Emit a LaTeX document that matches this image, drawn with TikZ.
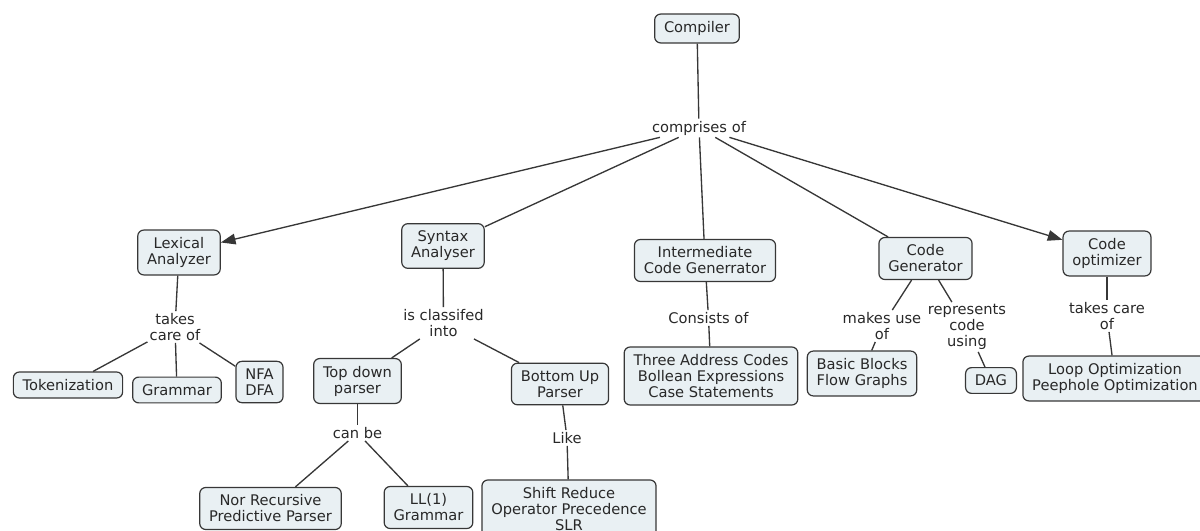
\documentclass[tikz,border=0pt]{standalone}
\usepackage{fontspec}
\setmainfont{DejaVu Sans}
\usepackage{xcolor}
\definecolor{boxfill}{RGB}{233, 240, 243}
\definecolor{edge}{RGB}{55, 55, 55}
\definecolor{ink}{RGB}{40, 40, 40}
\usepackage{tikz}
\usetikzlibrary{arrows.meta}

\begin{document}
\begin{tikzpicture}[x=0.75pt, y=-0.75pt,
    font=\fontsize{11}{12}\selectfont,
    concept/.style={draw=edge, fill=boxfill, text=ink, rounded corners=4.5pt, align=center,
        inner xsep=7pt, inner ysep=5.5pt, line width=0.9pt},
    link/.style={align=center, text=ink, inner sep=1.5pt},
    conn/.style={draw=edge, line width=1pt},
    tip/.style={-{Triangle[length=11pt, width=8pt]}}]
    \useasboundingbox (0,0) rectangle (1200,531);

    % Top concept
    \node[concept] (Compiler) at (697,28.5) {Compiler};
    \node[link] (Comprises) at (699,128) {comprises of};

    % Phases
    \node[concept] (Lexical) at (179,252.5) {Lexical\\Analyzer};
    \node[concept] (Syntax) at (443,246) {Syntax\\Analyser};
    \node[concept] (Intermediate) at (705,260.5) {Intermediate\\Code Generrator};
    \node[concept] (CodeGen) at (925.5,258.5) {Code\\Generator};
    \node[concept] (CodeOpt) at (1107,253.5) {Code\\optimizer};

    % Lexical analyzer
    \node[link] (LexCare) at (175,327) {takes\\care of};
    \node[concept] (Tokenization) at (68,385) {Tokenization};
    \node[concept] (Grammar) at (177,390) {Grammar};
    \node[concept] (Automata) at (259.5,382) {NFA\\DFA};

    % Syntax analyser
    \node[link] (Classified) at (443.5,323) {is classifed\\into};
    \node[concept] (TopDown) at (357.5,381) {Top down\\parser};
    \node[concept] (BottomUp) at (560,384) {Bottom Up\\Parser};
    \node[link] (CanBe) at (357.5,433) {can be};
    \node[concept] (Predictive) at (270.5,508.5) {Nor Recursive\\Predictive Parser};
    \node[concept] (LLone) at (428.5,507.5) {LL(1)\\Grammar};
    \node[link] (Like) at (567,438) {Like};
    \node[concept] (ShiftReduce) at (569,509) {Shift Reduce\\Operator Precedence\\SLR};

    % Intermediate code
    \node[link] (Consists) at (708.5,318) {Consists of};
    \node[concept] (ThreeAddress) at (711,376) {Three Address Codes\\Bollean Expressions\\Case Statements};

    % Code generator
    \node[link] (MakesUse) at (882,326) {makes use\\of};
    \node[link] (Represents) at (967,327) {represents\\code\\using};
    \node[concept] (Blocks) at (862,373.5) {Basic Blocks\\Flow Graphs};
    \node[concept] (Dag) at (991,380.5) {DAG};

    % Code optimizer
    \node[link] (OptCare) at (1107,316) {takes care\\of};
    \node[concept] (Loop) at (1115,378.5) {Loop Optimization\\Peephole Optimization};

    % Connectors
    \draw[conn] (Compiler) -- (Comprises);
    \draw[conn, tip] (Comprises) -- (Lexical);
    \draw[conn] (Comprises) -- (Syntax);
    \draw[conn] (Comprises) -- (Intermediate);
    \draw[conn] (Comprises) -- (CodeGen);
    \draw[conn, tip] (Comprises) -- (CodeOpt);

    \draw[conn] (Lexical) -- (LexCare);
    \draw[conn] (LexCare) -- (Tokenization);
    \draw[conn] (LexCare) -- (Grammar);
    \draw[conn] (LexCare) -- (Automata);

    \draw[conn] (Syntax) -- (Classified);
    \draw[conn] (Classified) -- (TopDown);
    \draw[conn] (Classified) -- (BottomUp);
    \draw[conn] (TopDown) -- (CanBe);
    \draw[conn] (CanBe) -- (Predictive);
    \draw[conn] (CanBe) -- (LLone);
    \draw[conn] (BottomUp) -- (Like);
    \draw[conn] (Like) -- (ShiftReduce);

    \draw[conn] (Intermediate) -- (Consists);
    \draw[conn] (Consists) -- (ThreeAddress);

    \draw[conn] (CodeGen) -- (MakesUse);
    \draw[conn] (MakesUse) -- (Blocks);
    \draw[conn] (CodeGen) -- (Represents);
    \draw[conn] (Represents) -- (Dag);

    \draw[conn] (CodeOpt) -- (OptCare);
    \draw[conn] (OptCare) -- (Loop);
\end{tikzpicture}
\end{document}
